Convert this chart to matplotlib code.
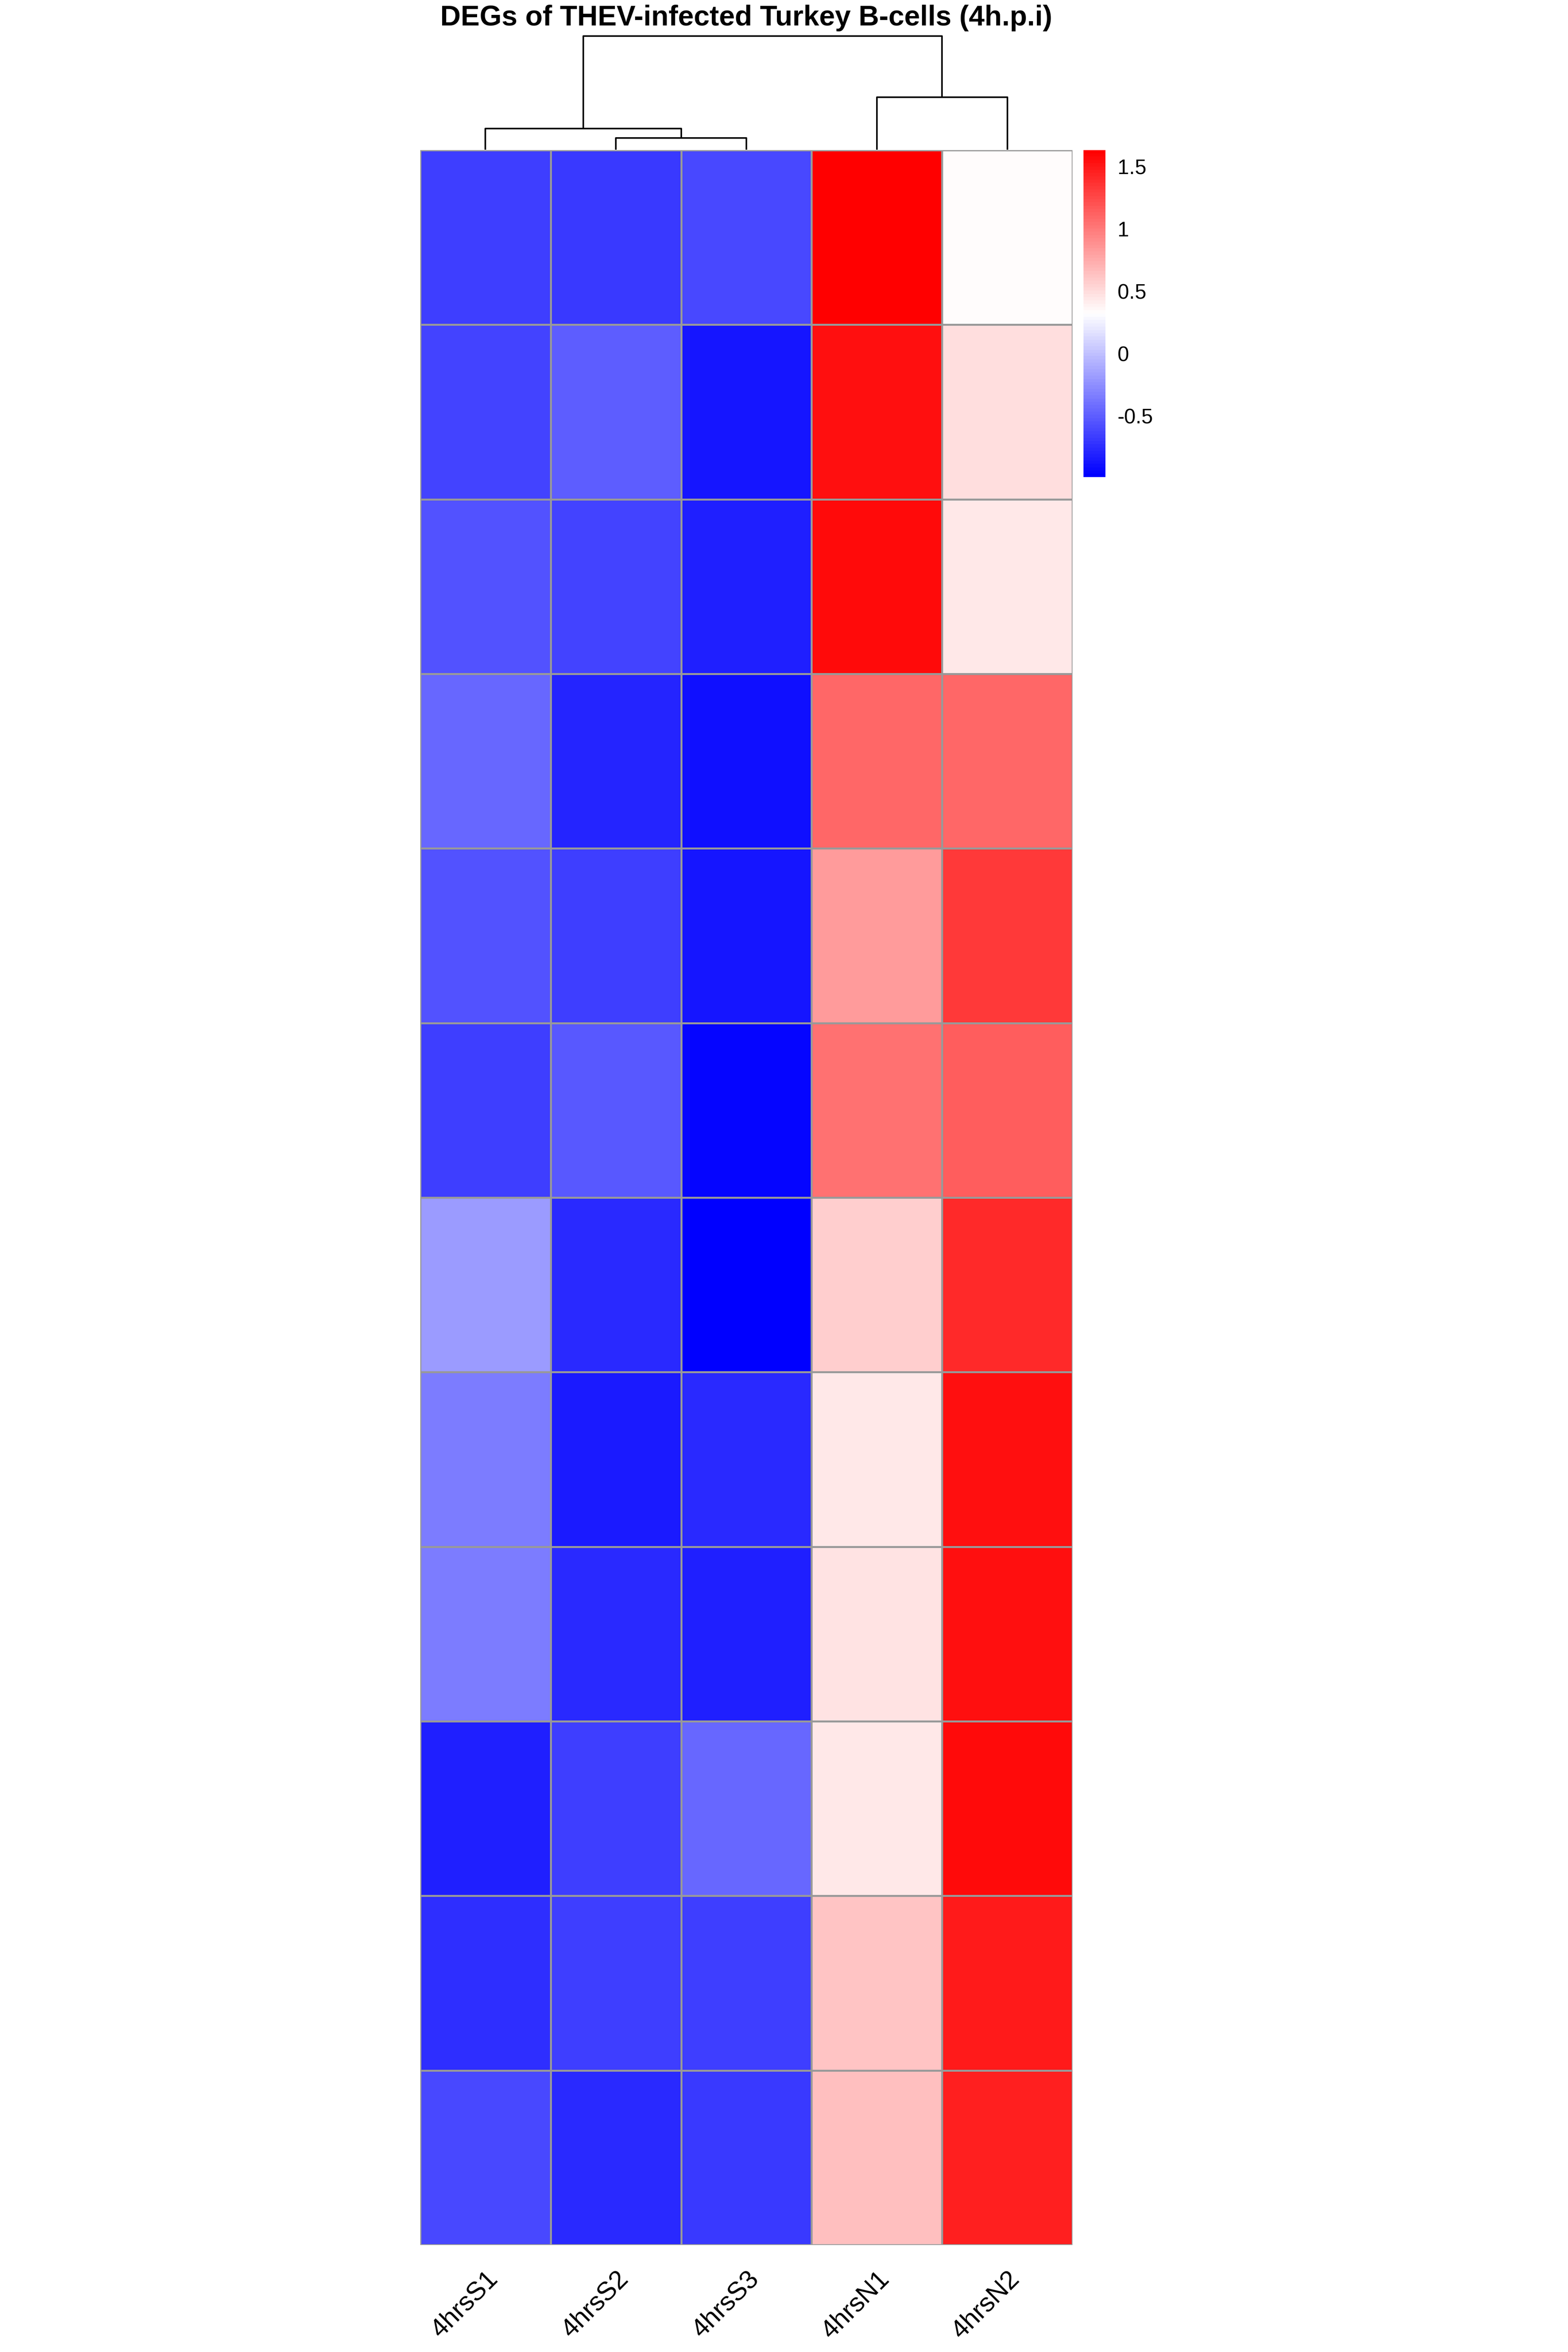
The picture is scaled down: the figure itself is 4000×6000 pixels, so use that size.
import numpy as np
import matplotlib
matplotlib.use("Agg")
import matplotlib.pyplot as plt
from matplotlib.colors import LinearSegmentedColormap

plt.rcParams["font.family"] = ["Liberation Sans", "DejaVu Sans"]

# amostras (colunas) na ordem do dendrograma
amostras = ["4hrsS1", "4hrsS2", "4hrsS3", "4hrsN1", "4hrsN2"]

# valores escalonados por linha, de cima para baixo
S1 = [-0.66, -0.64, -0.56, -0.45, -0.55, -0.66, -0.19, -0.34, -0.35, -0.83, -0.75, -0.61]
S2 = [-0.68, -0.50, -0.63, -0.79, -0.67, -0.52, -0.78, -0.84, -0.76, -0.67, -0.65, -0.77]
S3 = [-0.60, -0.87, -0.82, -0.90, -0.86, -0.95, -0.99, -0.76, -0.83, -0.46, -0.67, -0.69]
N1 = [1.63, 1.53, 1.56, 1.09, 0.83, 1.04, 0.56, 0.43, 0.46, 0.43, 0.62, 0.65]
N2 = [0.34, 0.50, 0.45, 1.09, 1.32, 1.15, 1.42, 1.55, 1.55, 1.57, 1.48, 1.47]

# dendrograma das colunas: cada juncao liga dois ramos (posicao, altura de base) numa altura
ramo_esq_x = [1.5, 0.5, 3.5, 1.25]
ramo_esq_base = [0.0, 0.0, 0.0, 0.186]
ramo_dir_x = [2.5, 2.0, 4.5, 4.0]
ramo_dir_base = [0.0, 0.103, 0.0, 0.462]
altura_juncao = [0.103, 0.186, 0.462, 1.0]

ticks_barra = [-0.5, 0, 0.5, 1, 1.5]
rotulos_barra = ["-0.5", "0", "0.5", "1", "1.5"]

matriz = np.array([S1, S2, S3, N1, N2]).T

cores = LinearSegmentedColormap.from_list("azul_branco_vermelho",
                                          ["#0000FF", "#FFFFFF", "#FF0000"], N=100)

fig = plt.figure(figsize=(40, 60), dpi=100)

# heatmap
ax = fig.add_axes([0.268, 0.0455, 0.416, 0.8907])
malha = ax.pcolormesh(matriz, cmap=cores, vmin=matriz.min(), vmax=matriz.max(),
                      edgecolors="#999999", linewidth=2.5)
ax.set_xlim(0, len(amostras))
ax.set_ylim(matriz.shape[0], 0)
ax.set_yticks([])
ax.set_xticks(np.arange(len(amostras)) + 0.5)
ax.set_xticklabels(amostras, rotation=45, ha="right", va="top", rotation_mode="anchor",
                   fontsize=48)
ax.tick_params(axis="x", length=0, pad=40)
for s in ax.spines.values():
    s.set_visible(False)

# dendrograma (ligacoes em U)
axd = fig.add_axes([0.268, 0.9363, 0.416, 0.0483])
for xe, be, xd, bd, h in zip(ramo_esq_x, ramo_esq_base, ramo_dir_x, ramo_dir_base, altura_juncao):
    axd.plot([xe, xe, xd, xd], [be, h, h, bd], color="black", lw=2.9,
             solid_capstyle="butt", clip_on=False)
axd.set_xlim(0, len(amostras))
axd.set_ylim(0, max(altura_juncao))
axd.axis("off")

# barra de cores
axc = fig.add_axes([0.691, 0.7972, 0.014, 0.139])
cb = fig.colorbar(malha, cax=axc)
cb.outline.set_visible(False)
cb.set_ticks(ticks_barra)
cb.set_ticklabels(rotulos_barra)
axc.tick_params(length=0, pad=22, labelsize=38)

fig.text(0.476, 1 - 65 / 6000, "DEGs of THEV-infected Turkey B-cells (4h.p.i)",
         ha="center", va="baseline", fontsize=52, fontweight="bold")

fig.savefig("out.png", dpi=100)
